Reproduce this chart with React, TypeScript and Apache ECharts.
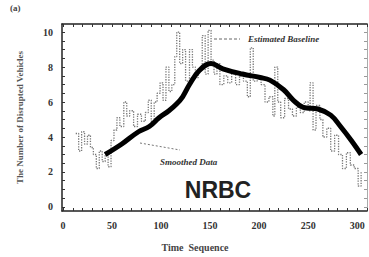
import React, { useEffect, useRef } from "react";
import * as echarts from "echarts";

const rawX = [13,16,19,22,25,28,31,34,37,40,43,46,49,52,55,58,62,65,68,72,76,80,84,87,90,93,96,99,102,105,108,111,114,116,119,122,125,129,132,135,138,142,145,148,151,154,157,160,164,168,172,176,180,184,188,191,194,198,202,206,210,214,216,219,222,226,230,234,238,242,246,250,252,255,258,262,265,269,273,277,281,285,289,293,297,301,304];
const rawY = [4.2,3.2,4.3,3.6,4.1,3.4,3.0,2.2,3.2,2.6,3.1,2.3,3.8,4.4,5.1,4.6,6.0,5.2,5.5,4.6,5.3,4.9,5.4,6.1,4.9,6.0,6.5,7.1,6.1,8.0,6.6,7.0,8.6,10.0,8.2,9.0,7.2,9.0,8.0,7.4,7.8,9.8,7.6,10.1,8.4,7.6,8.2,7.0,7.5,7.1,7.6,7.0,7.5,7.2,6.3,9.1,7.2,7.5,7.0,6.0,6.3,5.2,8.0,6.0,5.1,6.2,5.6,5.2,5.7,5.4,6.0,5.5,7.1,4.4,5.8,5.0,4.0,4.5,3.2,4.1,3.0,2.2,3.1,2.4,2.2,1.2,2.0];

const smoothX = [43,60,77,88,98,108,116,122,129,139,151,163,183,201,211,225,235,245,260,273,283,294,304];
const smoothY = [3.0,3.6,4.3,4.6,5.1,5.5,5.9,6.3,7.0,7.8,8.2,7.9,7.6,7.4,7.25,6.7,6.1,5.7,5.6,5.25,4.6,3.8,3.0];

const xLabels = [0, 50, 100, 150, 200, 250, 300];
const yLabels = [0, 2, 4, 6, 8, 10];
const xTicks = Array.from({ length: 32 }, (_, i) => i * 10);
const yTicks = Array.from({ length: 21 }, (_, i) => i * 0.5);

const serif = "'Liberation Serif', 'DejaVu Serif', serif";

const mkLine = (color: string, width: number) => ({ show: true, onZero: false, lineStyle: { color, width } });
const mkTick = (vals: number[], color: string) => ({ show: true, inside: true, length: 3, customValues: vals, lineStyle: { color, width: 1 } });

export default function App() {
  const ref = useRef<HTMLDivElement>(null);
  useEffect(() => {
    if (!ref.current) return;
    const chart = echarts.init(ref.current, null, { renderer: "svg" });
    chart.setOption({
      animation: false,
      backgroundColor: "#fff",
      grid: { left: 62, right: 2, top: 24, bottom: 46 },
      xAxis: [
        {
          type: "value",
          min: -1,
          max: 310,
          axisLine: mkLine("#222", 1.5),
          splitLine: { show: false },
          axisTick: mkTick(xTicks, "#333"),
          axisLabel: { customValues: xLabels, fontFamily: serif, fontSize: 10, fontWeight: "bold", color: "#333", margin: 9 },
        },
        {
          type: "value",
          position: "top",
          min: -1,
          max: 310,
          axisLine: mkLine("#222", 1.5),
          splitLine: { show: false },
          axisTick: mkTick(xTicks, "#333"),
          axisLabel: { show: false },
        },
      ],
      yAxis: [
        {
          type: "value",
          min: -0.23,
          max: 10.46,
          name: "The Number of Disrupted Vehicles",
          nameLocation: "middle",
          nameGap: 38,
          nameTextStyle: { fontFamily: serif, fontSize: 9, color: "#555", fontWeight: "bold" },
          axisLine: mkLine("#222", 1.5),
          splitLine: { show: false },
          axisTick: mkTick(yTicks, "#333"),
          axisLabel: { customValues: yLabels, fontFamily: serif, fontSize: 10, fontWeight: "bold", color: "#333", margin: 9 },
        },
        {
          type: "value",
          position: "right",
          min: -0.23,
          max: 10.46,
          axisLine: mkLine("#aaa", 1),
          splitLine: { show: false },
          axisTick: mkTick(yTicks, "#999"),
          axisLabel: { show: false },
        },
      ],
      series: [
        {
          type: "line",
          step: "end",
          symbol: "none",
          data: rawX.map((x, i) => [x, rawY[i]]),
          lineStyle: { color: "#777", width: 1.3, type: "dotted" },
          z: 2,
        },
        {
          type: "line",
          smooth: 0.4,
          symbol: "none",
          data: smoothX.map((x, i) => [x, smoothY[i]]),
          lineStyle: { color: "#000", width: 5 },
          z: 3,
        },
      ],
      graphic: [
        { type: "text", left: 10, top: 3, style: { text: "(a)", font: `bold 9px ${serif}`, fill: "#444" } },
        { type: "line", shape: { x1: 214, y1: 39, x2: 240, y2: 39 }, style: { stroke: "#666", lineWidth: 1, lineDash: [3, 2] } },
        { type: "text", x: 248, y: 34, style: { text: "Estimated Baseline", font: `italic bold 9px ${serif}`, fill: "#333" } },
        { type: "line", shape: { x1: 140, y1: 143, x2: 180, y2: 150 }, style: { stroke: "#777", lineWidth: 1, lineDash: [2, 2] } },
        { type: "text", x: 160, y: 157, style: { text: "Smoothed Data", font: `italic bold 9px ${serif}`, fill: "#333" } },
        { type: "text", x: 218, y: 190, style: { text: "NRBC", font: `bold 23px 'Liberation Sans', Arial, sans-serif`, fill: "#222", align: "center", verticalAlign: "middle" } },
        { type: "text", x: 195, y: 247, style: { text: "Time  Sequence", font: `bold 10px ${serif}`, fill: "#444", align: "center", verticalAlign: "middle" } },
      ],
    });
    return () => chart.dispose();
  }, []);
  return <div ref={ref} style={{ width: 369, height: 257, position: "absolute", left: 0, top: 0 }} />;
}
